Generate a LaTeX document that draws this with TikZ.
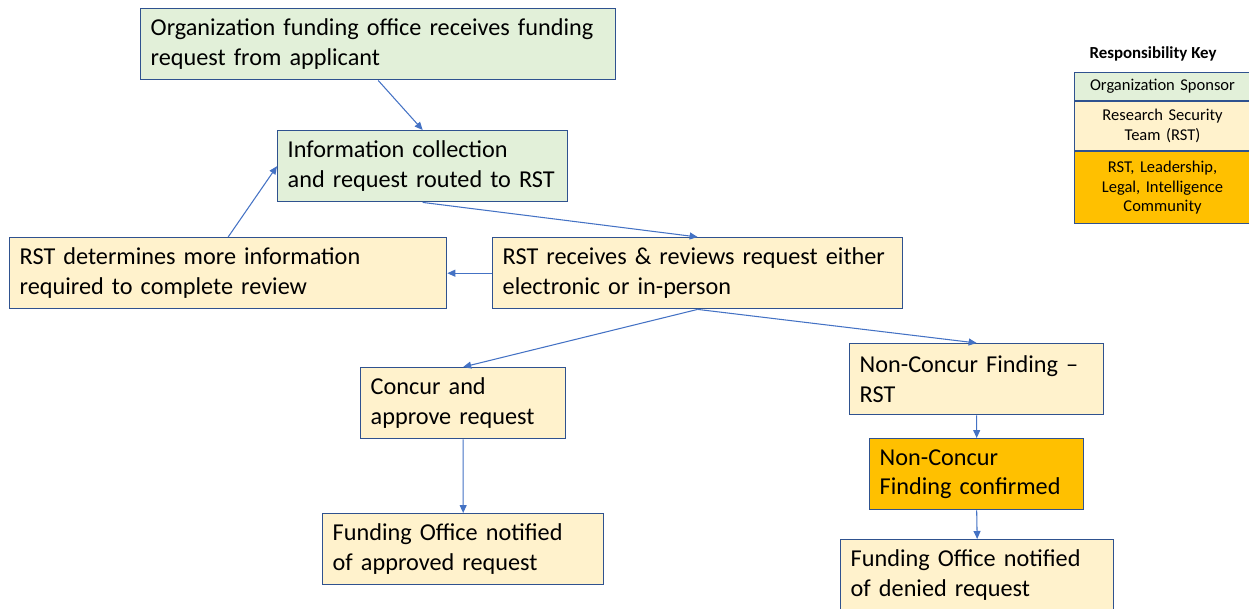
\documentclass[tikz,border=0pt]{standalone}
\usepackage{fontspec}
\setmainfont{Carlito}
\usetikzlibrary{arrows.meta,positioning}
\definecolor{sponsor}{HTML}{E2F0D9}
\definecolor{rst}{HTML}{FFF2CC}
\definecolor{panel}{HTML}{FFC000}
\definecolor{edge}{HTML}{2F528F}
\definecolor{link}{HTML}{4472C4}
\hyphenpenalty=10000
\exhyphenpenalty=10000
\tikzset{
	box/.style={draw=edge,line width=.8pt,anchor=north west,align=left,inner xsep=.2cm,minimum height=1.42cm,font=\fontsize{13.8}{17}\selectfont},
	keybox/.style={draw=edge,line width=.6pt,anchor=north west,align=center,text width=3.32cm,inner xsep=.1cm,font=\fontsize{9.4}{11.3}\selectfont},
	arr/.style={draw=link,line width=.6pt,-{Triangle[length=1.6mm,width=1.4mm]}}
}
\begin{document}
\begin{tikzpicture}[x=.02cm,y=-.02cm]
		\useasboundingbox (0,0) rectangle (1249,609);
		\node[box,fill=sponsor,text width=9.1cm] (recv) at (140,8) {Organization funding office receives funding\\request from applicant};
		\node[box,fill=sponsor,text width=5.4cm] (info) at (277,130) {Information collection\\and request routed to RST};
		\node[box,fill=rst,text width=8.34cm] (more) at (9,237) {RST determines more information\\required to complete review};
		\node[box,fill=rst,text width=7.8cm] (review) at (492,237) {RST receives \& reviews request either\\electronic or in-person};
		\node[box,fill=rst,text width=3.7cm] (concur) at (360,367) {Concur and\\approve request};
		\node[box,fill=rst,text width=4.68cm] (nonc) at (849,343) {Non-Concur Finding --\\RST};
		\node[box,fill=panel,text width=3.88cm] (confirm) at (869,438) {Non-Concur\\Finding confirmed};
		\node[box,fill=rst,text width=5.22cm] (approved) at (322,513) {Funding Office notified\\of approved request};
		\node[box,fill=rst,text width=5.06cm] (denied) at (840,539) {Funding Office notified\\of denied request};
		\node[font=\bfseries\fontsize{9.6}{11}\selectfont] (keytitle) at (1153,54) {Responsibility Key};
		\node[keybox,fill=sponsor,minimum height=.56cm] (k1) at (1074,72) {Organization Sponsor};
		\node[keybox,fill=rst,minimum height=.98cm] (k2) at (k1.south west) {Research Security\\Team (RST)};
		\node[keybox,fill=panel,minimum height=1.44cm] (k3) at (k2.south west) {RST, Leadership,\\Legal, Intelligence\\Community};
		\foreach \a/\b in {recv.south/info.north,info.south/review.north,review.west/more.east,more.north/info.west,review.south/concur.north,review.south/nonc.north,concur.south/approved.north,nonc.south/confirm.north,confirm.south/denied.north} \draw[arr] (\a) -- (\b);
	\end{tikzpicture}
\end{document}
